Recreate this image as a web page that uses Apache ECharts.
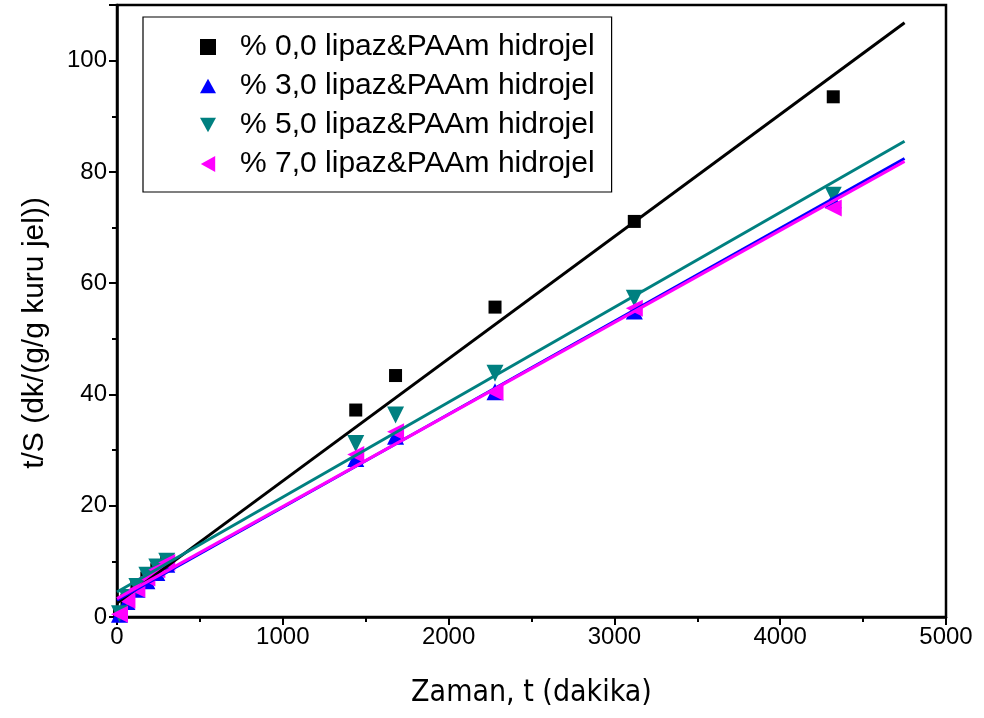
<!DOCTYPE html>
<html>
<head>
<meta charset="utf-8">
<script src="https://cdn.jsdelivr.net/npm/echarts@6/dist/echarts.min.js"></script>
<style>html,body{margin:0;padding:0;background:#fff}#c{width:984px;height:718px}</style>
</head>
<body>
<div id="c"></div>
<script>
var seriesNames = ['% 0,0 lipaz&PAAm hidrojel','% 3,0 lipaz&PAAm hidrojel','% 5,0 lipaz&PAAm hidrojel','% 7,0 lipaz&PAAm hidrojel'];
var times = [15, 60, 120, 180, 240, 300, 1440, 1680, 2280, 3120, 4320];
var ts0 = [0.5, 3.0, 5.5, 7.0, 8.5, 10.0, 37.2, 43.4, 55.7, 71.1, 93.5];
var ts3 = [0.5, 2.8, 5.0, 6.5, 8.0, 9.5, 28.5, 32.5, 40.5, 55.0, 75.0];
var ts5 = [0.6, 3.5, 5.5, 7.5, 9.0, 10.0, 31.2, 36.3, 43.8, 57.3, 75.8];
var ts7 = [0.5, 3.0, 5.0, 7.0, 8.5, 9.8, 29.2, 33.3, 40.4, 55.5, 73.5];
var fitX = [0, 4750];
var fit0 = [2.5, 106.8];
var fit3 = [3.0, 82.4];
var fit5 = [4.5, 85.5];
var fit7 = [3.3, 81.9];
var xTicks = [0, 1000, 2000, 3000, 4000, 5000];
var yTicks = [0, 20, 40, 60, 80, 100];

var colors = ['#000000', '#0000ff', '#008080', '#ff00ff'];
var icons = [
  'rect',
  'path://M5,0 L10,9 L0,9 Z',
  'path://M0,0 L10,0 L5,9 Z',
  'path://M0,5 L9,0 L9,10 Z'
];
var sizes = [13, 17, 17, 17];
var vals = [ts0, ts3, ts5, ts7];
var fits = [fit0, fit3, fit5, fit7];

function pairs(xs, ys) { return xs.map(function (x, i) { return [x, ys[i]]; }); }

var series = [];
for (var i = 0; i < 4; i++) {
  series.push({
    name: seriesNames[i], type: 'scatter', data: pairs(times, vals[i]),
    symbol: icons[i], symbolSize: sizes[i],
    itemStyle: { color: colors[i], opacity: 1 }, z: 2
  });
}
for (var j = 0; j < 4; j++) {
  series.push({
    name: 'fit' + j, type: 'line', data: pairs(fitX, fits[j]),
    symbol: 'none', lineStyle: { color: colors[j], width: 3 }, z: 3,
    silent: true
  });
}

var chart = echarts.init(document.getElementById('c'));
chart.setOption({
  animation: false,
  backgroundColor: '#ffffff',
  grid: { left: 117, right: 38, top: 5, bottom: 101, containLabel: false, outerBoundsMode: 'none',
    show: true, borderColor: '#000', borderWidth: 2.5, backgroundColor: 'transparent' },
  legend: {
    orient: 'vertical', left: 143, top: 17,
    data: seriesNames.map(function (n, i) { return { name: n, icon: icons[i] }; }),
    itemWidth: 16, itemHeight: 16, itemGap: 9,
    padding: [15, 17, 13, 57],
    borderColor: '#000', borderWidth: 1.2,
    textStyle: { fontFamily: 'Liberation Sans, Arial', fontSize: 30, color: '#000', padding: [0, 0, 0, 19] }
  },
  xAxis: {
    type: 'value', min: 0, max: 5000, interval: 1000,
    name: 'Zaman, t (dakika)', nameLocation: 'middle', nameGap: 61,
    nameTextStyle: { fontFamily: 'DejaVu Sans Condensed, Liberation Sans Narrow, Liberation Sans, Arial', fontSize: 30, color: '#000' },
    axisLine: { show: true, lineStyle: { color: '#000', width: 2.5 } },
    axisTick: { show: true, inside: false, length: 8, lineStyle: { color: '#000', width: 2 } },
    minorTick: { show: true, splitNumber: 2, length: 5, lineStyle: { color: '#000', width: 2 } },
    axisLabel: { fontFamily: 'Liberation Sans, Arial', fontSize: 24, color: '#000', margin: 8,
      formatter: function (v) { return xTicks.indexOf(v) >= 0 ? String(v) : ''; } },
    splitLine: { show: false }
  },
  yAxis: {
    type: 'value', min: 0, max: 110, interval: 20,
    name: 't/S (dk/(g/g kuru jel))', nameLocation: 'middle', nameGap: 67,
    nameTextStyle: { fontFamily: 'Liberation Sans, Arial', fontSize: 30, color: '#000', padding: [0, 44, 0, 0] },
    axisLine: { show: true, lineStyle: { color: '#000', width: 2.5 } },
    axisTick: { show: true, inside: false, length: 8, lineStyle: { color: '#000', width: 2 } },
    minorTick: { show: true, splitNumber: 2, length: 5, lineStyle: { color: '#000', width: 2 } },
    axisLabel: { fontFamily: 'Liberation Sans, Arial', fontSize: 24, color: '#000', margin: 10,
      formatter: function (v) { return yTicks.indexOf(v) >= 0 ? String(v) : ''; } },
    splitLine: { show: false }
  },
  series: series
});
</script>
</body>
</html>
